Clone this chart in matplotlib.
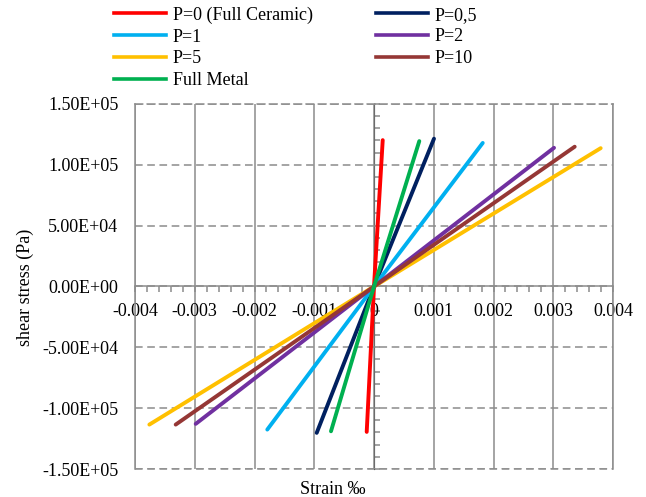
import matplotlib
matplotlib.use("Agg")
import matplotlib.pyplot as plt
from matplotlib.ticker import MultipleLocator, FuncFormatter
from matplotlib.lines import Line2D

plt.rcParams['font.family'] = ['Liberation Serif', 'DejaVu Serif']

labels = ["P=0 (Full Ceramic)", "P=0,5", "P=1", "P=2", "P=5", "P=10", "Full Metal"]
colors = ["#FF0000", "#002060", "#00B0F0", "#7030A0", "#FFC000", "#953735", "#00B050"]

# strain (‰) and shear stress (Pa) for each case: min, origin, max
strain_p0 = [-0.000122, 0.0, 0.000146]
stress_p0 = [-1.195e5, 0.0, 1.203e5]
strain_p05 = [-0.000959, 0.0, 0.001004]
stress_p05 = [-1.203e5, 0.0, 1.215e5]
strain_p1 = [-0.001786, 0.0, 0.00182]
stress_p1 = [-1.176e5, 0.0, 1.18e5]
strain_p2 = [-0.002984, 0.0, 0.003013]
stress_p2 = [-1.129e5, 0.0, 1.14e5]
strain_p5 = [-0.00376, 0.0, 0.003794]
stress_p5 = [-1.135e5, 0.0, 1.137e5]
strain_p10 = [-0.003319, 0.0, 0.003359]
stress_p10 = [-1.135e5, 0.0, 1.149e5]
strain_metal = [-0.00072, 0.0, 0.000758]
stress_metal = [-1.19e5, 0.0, 1.195e5]

strains = [strain_p0, strain_p05, strain_p1, strain_p2, strain_p5, strain_p10, strain_metal]
stresses = [stress_p0, stress_p05, stress_p1, stress_p2, stress_p5, stress_p10, stress_metal]

grid_c = "#8C8C8C"
fig = plt.figure(figsize=(6.46, 4.97), dpi=100)
ax = fig.add_axes([135/646, 1-469/497, (613-135)/646, (469-104)/497])
ax.set_xlim(-0.004, 0.004)
ax.set_ylim(-1.5e5, 1.5e5)

dash = (0, (5, 3))
ax.xaxis.set_major_locator(MultipleLocator(0.001))
ax.xaxis.set_minor_locator(MultipleLocator(0.0002))
ax.yaxis.set_major_locator(MultipleLocator(5e4))
ax.grid(axis='x', color=grid_c, lw=1.1, ls='-')
ax.grid(axis='y', color=grid_c, lw=1.1, ls=dash)

for s in ['left', 'right', 'top', 'bottom']:
    ax.spines[s].set_color(grid_c)
    ax.spines[s].set_linewidth(1.1)
ax.spines['top'].set_linestyle(dash)
ax.spines['bottom'].set_position(('data', 0))
ax.axhline(-1.5e5, color=grid_c, lw=1.1, ls=dash, clip_on=False)

ax.xaxis.set_major_formatter(FuncFormatter(lambda v, p: '0' if abs(v) < 1e-12 else f'{v:g}'))
ax.yaxis.set_major_formatter(FuncFormatter(lambda v, p: f'{v:.2E}'))
ax.tick_params(axis='x', which='major', direction='out', length=4, width=1.1, color=grid_c,
               labelsize=13, pad=8)
ax.tick_params(axis='x', which='minor', direction='out', length=4, width=1.1, color=grid_c)
ax.tick_params(axis='y', which='both', length=0, labelsize=13, pad=12)

sec = ax.secondary_yaxis(0.5)
sec.yaxis.set_major_locator(MultipleLocator(5e4))
sec.yaxis.set_minor_locator(MultipleLocator(1e4))
sec.tick_params(axis='y', which='both', direction='out', length=4, width=1.1, color=grid_c,
                labelleft=False, labelright=False)
sec.spines['left'].set_color(grid_c)
sec.spines['left'].set_linewidth(1.1)

for xs, ys, c in zip(strains, stresses, colors):
    ax.plot(xs, ys, color=c, lw=2.8, solid_capstyle='round', zorder=5)

handles = [Line2D([], [], color=c, lw=2.6) for c in colors]
order = [0, 2, 4, 6, 1, 3, 5]
fig.legend([handles[i] for i in order], [labels[i] for i in order], ncol=2,
           loc='upper left', bbox_to_anchor=(103/646, 1.009), frameon=False, fontsize=13,
           handlelength=2.9, handletextpad=0.35, columnspacing=3.5, labelspacing=0.27,
           borderpad=0.1)

fig.text(25/646, 1-287/497, 'shear stress (Pa)', rotation=90, ha='center', va='center', fontsize=13)
fig.text(333/646, 1-489/497, 'Strain ‰', ha='center', va='center', fontsize=13)

fig.savefig('out.png', dpi=100)
